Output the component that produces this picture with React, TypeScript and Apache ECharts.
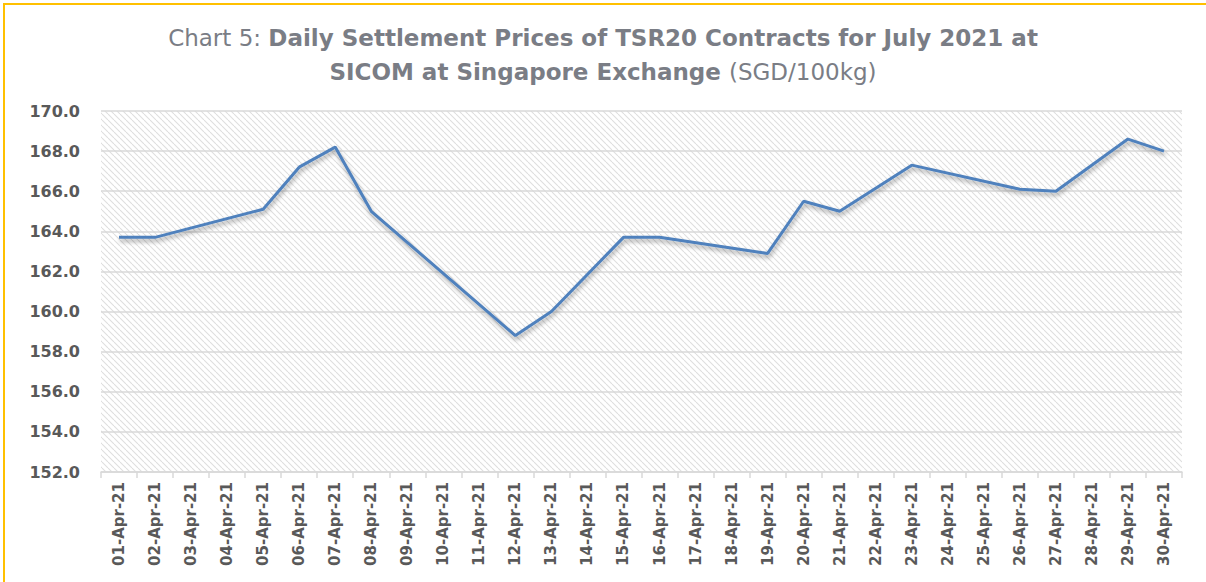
import React, { useEffect, useRef } from "react";
import * as echarts from "echarts";

const categories = [
  "01-Apr-21", "02-Apr-21", "03-Apr-21", "04-Apr-21", "05-Apr-21", "06-Apr-21",
  "07-Apr-21", "08-Apr-21", "09-Apr-21", "10-Apr-21", "11-Apr-21", "12-Apr-21",
  "13-Apr-21", "14-Apr-21", "15-Apr-21", "16-Apr-21", "17-Apr-21", "18-Apr-21",
  "19-Apr-21", "20-Apr-21", "21-Apr-21", "22-Apr-21", "23-Apr-21", "24-Apr-21",
  "25-Apr-21", "26-Apr-21", "27-Apr-21", "28-Apr-21", "29-Apr-21", "30-Apr-21",
];

// Settlement prices (SGD/100kg); null = no point plotted that day (line connects)
const prices: (number | null)[] = [
  163.7, 163.7, null, null, 165.1, 167.2,
  168.2, 165.0, null, null, null, 158.8,
  160.0, null, 163.7, 163.7, null, null,
  162.9, 165.5, 165.0, null, 167.3, null,
  null, 166.1, 166.0, null, 168.6, 168.0,
];

const yMin = 152;
const yMax = 170;
const yStep = 2;

const titleLine1Regular = "Chart 5: ";
const titleLine1Bold = "Daily Settlement Prices of TSR20 Contracts for July 2021 at";
const titleLine2Bold = "SICOM at Singapore Exchange ";
const titleLine2Regular = "(SGD/100kg)";

function makeHatch(): HTMLCanvasElement {
  const c = document.createElement("canvas");
  c.width = 6;
  c.height = 6;
  const ctx = c.getContext("2d")!;
  ctx.fillStyle = "#ffffff";
  ctx.fillRect(0, 0, 6, 6);
  ctx.strokeStyle = "#dedede";
  ctx.lineWidth = 1.1;
  for (const k of [-6, 0, 6]) {
    ctx.beginPath();
    ctx.moveTo(k, 0);
    ctx.lineTo(k + 6, 6);
    ctx.stroke();
  }
  return c;
}

export default function App() {
  const ref = useRef<HTMLDivElement>(null);

  useEffect(() => {
    if (!ref.current) return;
    const chart = echarts.init(ref.current, null, { renderer: "svg" });
    const hatch = makeHatch();
    const font = "DejaVu Sans";

    chart.setOption({
      animation: false,
      backgroundColor: "#ffffff",
      title: {
        left: "center",
        top: 16,
        text:
          "{r|" + titleLine1Regular + "}{b|" + titleLine1Bold + "}\n" +
          "{b|" + titleLine2Bold + "}{r|" + titleLine2Regular + "}",
        textStyle: {
          rich: {
            r: { fontFamily: font, fontSize: 23, fontWeight: "normal", color: "#7a7d85", lineHeight: 34 },
            b: { fontFamily: font, fontSize: 23, fontWeight: "bold", color: "#7a7d85", lineHeight: 34 },
          },
        },
      },
      graphic: [
        {
          type: "rect",
          shape: { x: 4, y: 4, width: 1220, height: 600 },
          style: { fill: "none", stroke: "#FFC000", lineWidth: 2 },
          silent: true,
          z: 100,
        },
      ],
      grid: {
        left: 101,
        right: 24,
        top: 111,
        bottom: 110,
        show: true,
        borderWidth: 0,
        backgroundColor: {
          image: hatch,
          repeat: "repeat",
          imageWidth: 6,
          imageHeight: 6,
        } as any,
      },
      xAxis: {
        type: "category",
        data: categories,
        boundaryGap: true,
        axisLine: { show: true, lineStyle: { color: "#d9d9d9", width: 1.5 } },
        axisTick: { show: true, length: 6, lineStyle: { color: "#d9d9d9", width: 1.5 } },
        axisLabel: {
          interval: 0,
          rotate: 90,
          margin: 10,
          fontFamily: font,
          fontSize: 15,
          fontWeight: "bold",
          color: "#595959",
        },
        splitLine: { show: false },
      },
      yAxis: {
        type: "value",
        min: yMin,
        max: yMax,
        interval: yStep,
        axisLine: { show: false },
        axisTick: { show: false },
        axisLabel: {
          margin: 21,
          fontFamily: font,
          fontSize: 16,
          fontWeight: "bold",
          color: "#595959",
          formatter: (v: number) => v.toFixed(1),
        },
        splitLine: { show: true, lineStyle: { color: "#d9d9d9", width: 1.5 } },
      },
      series: [
        {
          type: "line",
          data: prices,
          connectNulls: true,
          showSymbol: false,
          symbol: "none",
          lineStyle: {
            color: "#4F81BD",
            width: 3,
            shadowColor: "rgba(0,0,0,0.35)",
            shadowBlur: 4,
            shadowOffsetX: 1,
            shadowOffsetY: 3,
          },
          itemStyle: { color: "#4F81BD" },
        },
      ],
    });

    return () => chart.dispose();
  }, []);

  return (
    <div
      ref={ref}
      style={{ position: "fixed", left: 0, top: 0, width: 1206, height: 582 }}
    />
  );
}
